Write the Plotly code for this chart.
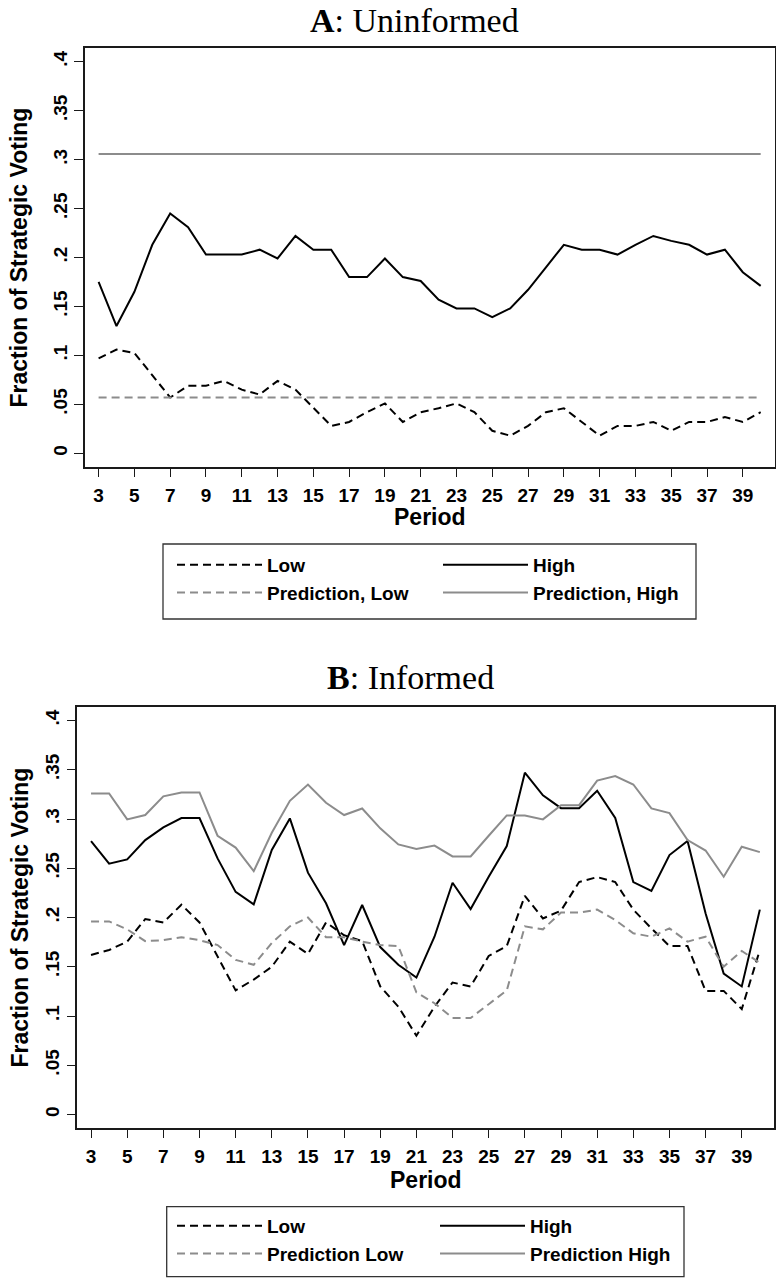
import plotly.graph_objects as go

periods = list(range(3, 41))

# Panel A: Uninformed
a_low = [0.097, 0.106, 0.1025, 0.080, 0.057, 0.069, 0.069, 0.074, 0.065, 0.060,
         0.074, 0.065, 0.046, 0.028, 0.032, 0.042, 0.051, 0.032, 0.042, 0.046,
         0.051, 0.042, 0.023, 0.018, 0.028, 0.042, 0.046, 0.032, 0.018, 0.028,
         0.028, 0.032, 0.023, 0.032, 0.032, 0.037, 0.032, 0.042]
a_high = [0.175, 0.130, 0.165, 0.213, 0.245, 0.231, 0.203, 0.203, 0.203, 0.208,
          0.199, 0.222, 0.208, 0.208, 0.180, 0.180, 0.199, 0.180, 0.176, 0.157,
          0.148, 0.148, 0.139, 0.148, 0.167, 0.190, 0.213, 0.208, 0.208, 0.203,
          0.213, 0.222, 0.217, 0.213, 0.203, 0.208, 0.185, 0.171]
a_pred_low = [0.057] * len(periods)
a_pred_high = [0.3056] * len(periods)

# Panel B: Informed
b_low = [0.162, 0.167, 0.1755, 0.1985, 0.195, 0.213, 0.195, 0.160, 0.126, 0.137,
         0.150, 0.1755, 0.163, 0.195, 0.182, 0.176, 0.130, 0.1095, 0.080, 0.1095,
         0.134, 0.130, 0.161, 0.171, 0.222, 0.199, 0.207, 0.236, 0.241, 0.236,
         0.208, 0.189, 0.171, 0.171, 0.1255, 0.1255, 0.107, 0.167]
b_high = [0.2776, 0.2546, 0.259, 0.2786, 0.2915, 0.301, 0.301, 0.260, 0.226, 0.2134,
          0.2685, 0.3006, 0.2455, 0.2144, 0.172, 0.2127, 0.170, 0.152, 0.139, 0.1805,
          0.2353, 0.2086, 0.2414, 0.2725, 0.347, 0.324, 0.311, 0.311, 0.3286, 0.301,
          0.236, 0.227, 0.2634, 0.2776, 0.204, 0.143, 0.130, 0.208]
b_pred_low = [0.196, 0.196, 0.188, 0.176, 0.177, 0.180, 0.177, 0.172, 0.157, 0.152,
              0.174, 0.191, 0.200, 0.180, 0.180, 0.1755, 0.172, 0.171, 0.124, 0.113,
              0.098, 0.098, 0.112, 0.126, 0.191, 0.188, 0.205, 0.205, 0.208, 0.1975,
              0.184, 0.1805, 0.189, 0.1755, 0.1805, 0.150, 0.166, 0.154]
b_pred_high = [0.326, 0.326, 0.2996, 0.304, 0.323, 0.327, 0.327, 0.283, 0.271, 0.247,
               0.286, 0.3185, 0.335, 0.3165, 0.304, 0.3107, 0.2905, 0.2742, 0.2695, 0.273,
               0.262, 0.262, 0.283, 0.3036, 0.3036, 0.2996, 0.314, 0.314, 0.339, 0.3435,
               0.335, 0.3107, 0.306, 0.2786, 0.268, 0.2414, 0.2718, 0.2664]

x_ticks = list(range(3, 41, 2))
y_ticks = [0, 0.05, 0.1, 0.15, 0.2, 0.25, 0.3, 0.35, 0.4]
y_ticktext = ["0", ".05", ".1", ".15", ".2", ".25", ".3", ".35", ".4"]

labels_a = ["Low", "High", "Prediction, Low", "Prediction, High"]
labels_b = ["Low", "High", "Prediction Low", "Prediction High"]

W, H = 776, 1278
SANS = "Liberation Sans, Arial, Helvetica, sans-serif"
SERIF = "Liberation Serif, Times New Roman, serif"
GRAY = "#8c8c8c"
DASH = "8px,5px"

styles = [
    dict(color="black", dash=DASH),
    dict(color="black", dash="solid"),
    dict(color=GRAY, dash=DASH),
    dict(color=GRAY, dash="solid"),
]
# legend column for each series: left column = Low / Prediction Low, right = High / Prediction High
cols = [0, 1, 0, 1]

fig = go.Figure()

def add_panel(series, labels, xa, ya, legends):
    for vals, lab, st, c in zip(series, labels, styles, cols):
        fig.add_trace(go.Scatter(
            x=periods, y=vals, name=lab, mode="lines",
            line=dict(color=st["color"], dash=st["dash"], width=2),
            xaxis=xa, yaxis=ya, legend=legends[c],
        ))

add_panel([a_low, a_high, a_pred_low, a_pred_high], labels_a, "x", "y", ["legend", "legend2"])
add_panel([b_low, b_high, b_pred_low, b_pred_high], labels_b, "x2", "y2", ["legend3", "legend4"])

def xaxis(domain, anchor):
    return dict(domain=domain, range=[2.24, 40.8], tickvals=x_ticks, anchor=anchor,
                showline=True, mirror=True, linecolor="#1a1a1a", linewidth=1.5,
                showgrid=False, zeroline=False, ticks="outside", ticklen=8, tickwidth=1.4,
                tickcolor="#1a1a1a", ticklabelstandoff=2,
                tickfont=dict(family=SANS, size=19, color="black", weight="bold"))

def yaxis(domain, anchor):
    return dict(domain=domain, range=[-0.014, 0.414], tickvals=y_ticks, ticktext=y_ticktext,
                tickangle=-90, anchor=anchor,
                showline=True, mirror=True, linecolor="#1a1a1a", linewidth=1.5,
                showgrid=False, zeroline=False, ticks="outside", ticklen=9, tickwidth=1.4,
                tickcolor="#1a1a1a", ticklabelstandoff=0,
                tickfont=dict(family=SANS, size=19, color="black", weight="bold"))

def legend(x, ytop):
    return dict(orientation="v", x=x / W, y=1 - ytop / H, xanchor="left", yanchor="top",
                borderwidth=0, bgcolor="rgba(0,0,0,0)",
                font=dict(family=SANS, size=19, color="black", weight="bold"),
                itemwidth=85, traceorder="normal", tracegroupgap=0)

fig.update_layout(
    width=W, height=H,
    margin=dict(l=0, r=0, t=0, b=0, autoexpand=False),
    paper_bgcolor="white", plot_bgcolor="white",
    xaxis=xaxis([85 / W, 775 / W], "y"),
    yaxis=yaxis([1 - 467 / H, 1 - 48 / H], "x"),
    xaxis2=xaxis([77.3 / W, 774.3 / W], "y2"),
    yaxis2=yaxis([1 - 1128.3 / H, 1 - 706.7 / H], "x2"),
    legend=legend(172, 546),
    legend2=legend(438, 546),
    legend3=legend(172, 1207),
    legend4=legend(435, 1207),
    showlegend=True,
)

# legend frames
shapes = [
    dict(type="rect", xref="paper", yref="paper", x0=163 / W, x1=696 / W,
         y0=1 - 619 / H, y1=1 - 544 / H, line=dict(color="#333333", width=1.3)),
    dict(type="rect", xref="paper", yref="paper", x0=166.7 / W, x1=684 / W,
         y0=1 - 1276.7 / H, y1=1 - 1206.7 / H, line=dict(color="#333333", width=1.3)),
]
fig.update_layout(shapes=shapes)

ann = []
# Panel titles
ann.append(dict(text="<b>A</b>: Uninformed", x=414 / W, y=1 - 20 / H, xref="paper", yref="paper",
                showarrow=False, xanchor="center", yanchor="middle",
                font=dict(family=SERIF, size=34, color="black")))
ann.append(dict(text="<b>B</b>: Informed", x=410 / W, y=1 - 677 / H, xref="paper", yref="paper",
                showarrow=False, xanchor="center", yanchor="middle",
                font=dict(family=SERIF, size=34, color="black")))
# Axis titles
for ycen, pcen, px in [(257.5, 517, 430), (917.5, 1180, 426)]:
    ann.append(dict(text="Fraction of Strategic Voting", x=19 / W, y=1 - ycen / H,
                    xref="paper", yref="paper", showarrow=False, textangle=-90,
                    xanchor="center", yanchor="middle",
                    font=dict(family=SANS, size=23, color="black", weight="bold")))
    ann.append(dict(text="Period", x=px / W, y=1 - pcen / H, xref="paper", yref="paper",
                    showarrow=False, xanchor="center", yanchor="middle",
                    font=dict(family=SANS, size=23, color="black", weight="bold")))
fig.update_layout(annotations=ann)

fig.write_html("out.html",
               config={"displayModeBar": False},
               post_script="document.body.style.margin='0';document.body.style.overflow='hidden';")
